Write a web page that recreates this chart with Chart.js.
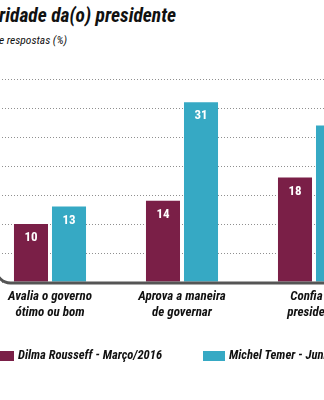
<!DOCTYPE html>
<html lang="pt-BR">
<head>
<meta charset="utf-8">
<script src="https://cdn.jsdelivr.net/npm/chart.js@4/dist/chart.umd.min.js"></script>
<style>
  html, body { margin: 0; padding: 0; background: #fff; }
  body { width: 324px; height: 400px; position: relative; overflow: hidden;
         font-family: "Roboto Condensed", Roboto, sans-serif; }
  #grafico { position: absolute; left: -16.5px; top: 0; }
  .titulo { position: absolute; right: 148px; top: 4px; white-space: nowrap;
            font-size: 19.5px; font-weight: bold; font-style: italic; color: #111; }
  .subtitulo { position: absolute; right: 257px; top: 33px; white-space: nowrap;
               font-size: 11.5px; font-style: italic; color: #111; }
  .legenda { position: absolute; top: 346px; white-space: nowrap; height: 18px; }
  .legenda span.caixa { position: absolute; left: 0; top: 5px; width: 22px; height: 10px; }
  .legenda span.texto { position: absolute; left: 26px; top: 0; font-size: 12.6px;
                        font-weight: bold; font-style: italic; color: #111; line-height: 18px; }
</style>
</head>
<body>
<div class="titulo">Popularidade da(o) presidente</div>
<div class="subtitulo">Percentual de respostas (%)</div>
<canvas id="grafico" width="400" height="400"></canvas>
<div id="legendas"></div>
<script>
// dados da pesquisa
var categorias = [['Avalia o governo', 'ótimo ou bom'], ['Aprova a maneira', 'de governar'], ['Confia na', 'presidente']];
var serieNomes = ['Dilma Rousseff - Março/2016', 'Michel Temer  - Junho/2016'];
var dilma = [10, 14, 18];
var temer = [13, 31, 27];
var eixoMax = 35;
var eixoPasso = 5;

var cores = ['#7a1f47', '#36a9c4'];
var fonteBase = '"Roboto Condensed", Roboto, sans-serif';

// linha de base com a curva na esquerda
var linhaBase = {
    id: 'linhaBase',
    afterDraw: function(chart) {
        var ctx = chart.ctx;
        var area = chart.chartArea;
        var y0 = chart.scales.y.getPixelForValue(0) + 1;
        var xc = area.left + 12;
        ctx.save();
        ctx.strokeStyle = '#555';
        ctx.lineWidth = 3;
        ctx.beginPath();
        ctx.moveTo(xc, y0 - 60);
        ctx.arcTo(xc, y0, xc + 30, y0, 14.5);
        ctx.lineTo(area.right + 10, y0);
        ctx.stroke();
        ctx.restore();
    }
};

// valores escritos dentro das barras
var rotulos = {
    id: 'rotulos',
    afterDatasetsDraw: function(chart) {
        var ctx = chart.ctx;
        ctx.save();
        ctx.fillStyle = '#fff';
        ctx.font = 'bold 13px ' + fonteBase;
        ctx.textAlign = 'center';
        ctx.textBaseline = 'middle';
        chart.data.datasets.forEach(function(ds, i) {
            chart.getDatasetMeta(i).data.forEach(function(bar, j) {
                ctx.fillText(ds.data[j], bar.x, bar.y + 14);
            });
        });
        ctx.restore();
    }
};

var grafico = new Chart(document.getElementById('grafico'), {
    type: 'bar',
    data: {
        labels: categorias,
        datasets: [
            { label: serieNomes[0], data: dilma, backgroundColor: cores[0] },
            { label: serieNomes[1], data: temer, backgroundColor: cores[1] }
        ]
    },
    options: {
        responsive: false,
        animation: false,
        categoryPercentage: 0.576,
        barPercentage: 0.895,
        layout: { padding: { top: 79, left: 0, right: 4, bottom: 0 } },
        plugins: {
            legend: { display: false },
            tooltip: { enabled: false }
        },
        scales: {
            x: {
                grid: { display: false, drawTicks: false },
                border: { display: false },
                ticks: {
                    padding: 7,
                    color: '#111',
                    font: { family: fonteBase, size: 13, weight: 'bold', style: 'italic', lineHeight: 1.23 }
                },
                afterFit: function(scale) { scale.height = 118; }
            },
            y: {
                min: 0,
                max: eixoMax,
                ticks: { stepSize: eixoPasso, display: false },
                grid: { color: '#8f8f8f', lineWidth: 1, drawTicks: false },
                border: { display: false, dash: [1, 2] },
                afterFit: function(scale) { scale.width = 0; }
            }
        }
    },
    plugins: [linhaBase, rotulos]
});

// legenda em html com as cores das séries
var legendaX = [-8, 203];
var caixa = document.getElementById('legendas');
grafico.data.datasets.forEach(function(ds, i) {
    var item = document.createElement('div');
    item.className = 'legenda';
    item.style.left = legendaX[i] + 'px';
    item.innerHTML = '<span class="caixa" style="background:' + ds.backgroundColor + '"></span>' +
                     '<span class="texto">' + ds.label + '</span>';
    caixa.appendChild(item);
});
</script>
</body>
</html>
